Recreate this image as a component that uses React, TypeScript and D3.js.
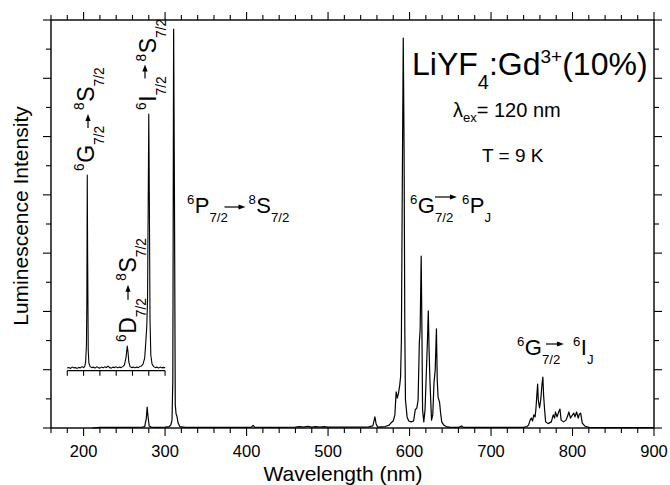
import React from "react";
import * as d3 from "d3";

// ---------- data (wavelength nm, intensity in axis units 0..14) ----------
const mainSpectrum: [number, number][] = [
  [211, 0.0], [220, 0.02], [240, 0.02], [260, 0.02], [272, 0.03], [275, 0.05],
  [277, 0.34], [278, 0.72], [279, 0.41], [280.5, 0.07], [283, 0.03], [290, 0.02],
  [300, 0.03], [305, 0.05], [307, 0.1], [308.5, 0.27], [309.5, 1.65], [310.5, 13.69],
  [311.5, 7.82], [312.5, 0.79], [313.5, 0.48], [314.5, 0.41], [316, 0.17], [318, 0.05],
  [325, 0.02], [350, 0.02], [380, 0.02], [400, 0.02], [406, 0.03], [408, 0.09],
  [410, 0.03], [430, 0.02], [460, 0.03], [465, 0.05], [470, 0.03], [475, 0.06],
  [480, 0.03], [485, 0.05], [490, 0.03], [495, 0.05], [500, 0.03], [520, 0.03],
  [540, 0.03], [550, 0.04], [555, 0.07], [557.5, 0.38], [559, 0.14], [561, 0.03],
  [570, 0.05], [575, 0.1], [577, 0.17], [580, 0.24], [582, 0.45], [583.6, 1.24],
  [585, 1.03], [586.5, 1.2], [588, 1.48], [589, 1.75], [590, 3.02], [591, 7.82],
  [592.3, 13.38], [593.3, 9.54], [594.2, 3.36], [595, 0.96], [597, 0.38], [599, 0.24],
  [602, 0.21], [605, 0.24], [607, 0.62], [609, 0.69], [610.5, 0.96], [612, 2.92],
  [613, 3.36], [614.3, 5.9], [615.3, 3.02], [616, 0.62], [617.5, 0.21], [619, 0.62],
  [620.6, 1.89], [622, 3.02], [623, 4.02], [624, 2.68], [625, 1.65], [627, 0.27],
  [628.5, 0.45], [630, 1.54], [631.5, 1.99], [633, 3.4], [634, 1.65], [635, 1.06],
  [636.8, 0.89], [638, 0.55], [639.5, 0.21], [642, 0.1], [645, 0.05], [650, 0.02],
  [660, 0.02], [664, 0.07], [666, 0.02], [680, 0.02], [700, 0.02], [720, 0.02],
  [740, 0.02], [744, 0.05], [746, 0.1], [748, 0.27], [749.5, 0.34], [751, 0.24],
  [752.5, 0.45], [754, 0.38], [755, 0.62], [756, 1.03], [757.2, 1.51], [758, 0.96],
  [759.5, 0.69], [761, 0.96], [762.5, 1.48], [763.6, 1.75], [764.5, 1.13], [765.5, 0.72],
  [767, 0.21], [770, 0.15], [774, 0.21], [776.3, 0.45], [778, 0.34], [779, 0.55],
  [781, 0.38], [783, 0.55], [784.6, 0.65], [786, 0.27], [789, 0.21], [792, 0.27],
  [794, 0.41], [795.5, 0.55], [797.5, 0.34], [799, 0.41], [801.6, 0.51], [803, 0.38],
  [805, 0.55], [807, 0.34], [808.5, 0.48], [810, 0.51], [812, 0.17], [815, 0.07],
  [820, 0.02], [850, 0.01], [900, 0.01],
];

// inset: magnified UV region, intensity relative to the 280 nm peak
const insetSpectrum: [number, number][] = [
  [180, 0.011], [182, 0.012], [184, 0.009], [186, 0.014], [188, 0.011], [190, 0.012],
  [192, 0.009], [194, 0.013], [196, 0.011], [198, 0.016], [200, 0.012], [201.5, 0.018],
  [202.5, 0.034], [203.5, 0.1], [204, 0.275], [204.5, 0.762], [205, 0.43], [205.7, 0.08],
  [206.5, 0.03], [208, 0.016], [210, 0.012], [212, 0.014], [214, 0.01], [216, 0.015],
  [218, 0.012], [220, 0.01], [222, 0.014], [224, 0.011], [226, 0.015], [228, 0.012],
  [230, 0.018], [232, 0.012], [234, 0.01], [236, 0.014], [238, 0.012], [240, 0.015],
  [242, 0.011], [244, 0.014], [246, 0.012], [248, 0.016], [250, 0.022], [252, 0.05],
  [253.6, 0.096], [254.5, 0.073], [255.5, 0.034], [257, 0.016], [259, 0.012], [261, 0.014],
  [263, 0.011], [265, 0.014], [267, 0.012], [269, 0.016], [271, 0.018], [273, 0.026],
  [275, 0.05], [276.5, 0.12], [277.5, 0.17], [278.5, 0.275], [279.3, 0.665], [280, 1.0],
  [280.7, 0.665], [281.5, 0.2], [282.5, 0.06], [284, 0.026], [286, 0.016], [288, 0.012],
  [290, 0.014], [292, 0.01], [294, 0.014], [296, 0.011], [298, 0.013], [300, 0.011],
];

const xMajorTicks = [200, 300, 400, 500, 600, 700, 800, 900];
const xMinorStep = 20;
const yTickValues = d3.range(0, 15);
const insetTicks = [180, 200, 220, 240, 260, 280, 300];

// ---------- layout ----------
const W = 670;
const H = 485;
const FONT = "'Liberation Sans', Arial, Helvetica, sans-serif";

const x = d3.scaleLinear().domain([160, 900]).range([51, 654]);
const y = d3.scaleLinear().domain([0, 14]).range([428, 20]);
const yInset = d3.scaleLinear().domain([0, 1]).range([370.7, 114]);
const insetBase = 370.7;

const charW: Record<string, number> = {
  "0": 0.556, "1": 0.556, "2": 0.556, "3": 0.556, "4": 0.556, "5": 0.556,
  "6": 0.556, "7": 0.556, "8": 0.556, "9": 0.556, "/": 0.278,
  G: 0.778, P: 0.667, S: 0.667, D: 0.722, I: 0.278, J: 0.5,
};
const tw = (s: string, size: number) =>
  s.split("").reduce((a, c) => a + (charW[c] ?? 0.556), 0) * size;

type TermProps = {
  tx: number; ty: number; rotate?: boolean; fs: number;
  a: [string, string, string]; b: [string, string, string];
  arrowStart: number; arrowLen: number; arrowRise: number; gap: number;
};

function Term({ tx, ty, rotate, fs, a, b, arrowStart, arrowLen, arrowRise, gap }: TermProps) {
  const supFs = fs * 0.6;
  const subFs = fs * 0.6;
  const supDy = -fs * 0.42;
  const subDy = fs * 0.42;
  const x1 = tw(a[0], supFs) + 0.5;
  const x2 = x1 + tw(a[1], fs);
  const subEnd = x2 + tw(a[2], subFs);
  const ax0 = x2 + arrowStart;
  const ax1 = ax0 + arrowLen;
  const x3 = Math.max(subEnd, ax1) + gap;
  const x4 = x3 + tw(b[0], supFs) + 0.5;
  const x5 = x4 + tw(b[1], fs);
  const ay = -arrowRise;
  const head = 7;
  return (
    <g transform={`translate(${tx},${ty})${rotate ? " rotate(-90)" : ""}`} fontFamily={FONT} fill="#000">
      <text x={0} y={supDy} fontSize={supFs}>{a[0]}</text>
      <text x={x1} y={0} fontSize={fs}>{a[1]}</text>
      <text x={x2} y={subDy} fontSize={subFs}>{a[2]}</text>
      <line x1={ax0} y1={ay} x2={ax1 - head + 1} y2={ay} stroke="#000" strokeWidth={1.2} />
      <path d={`M${ax1},${ay} L${ax1 - head},${ay - 2.6} L${ax1 - head},${ay + 2.6} Z`} fill="#000" />
      <text x={x3} y={supDy} fontSize={supFs}>{b[0]}</text>
      <text x={x4} y={0} fontSize={fs}>{b[1]}</text>
      <text x={x5} y={subDy} fontSize={subFs}>{b[2]}</text>
    </g>
  );
}

export default function App() {
  const line = d3
    .line<[number, number]>()
    .x((d) => x(d[0]))
    .y((d) => y(d[1]));
  const insetLine = d3
    .line<[number, number]>()
    .x((d) => x(d[0]))
    .y((d) => yInset(d[1]));

  const xAll = d3.range(160, 901, xMinorStep);
  const isMajor = (v: number) => xMajorTicks.includes(v);
  const [x0, x1] = x.range();
  const [yb, yt] = y.range();

  return (
    <svg
      width={W}
      height={H}
      viewBox={`0 0 ${W} ${H}`}
      style={{ position: "absolute", left: 0, top: 0, background: "#fff" }}
    >
      <rect x={0} y={0} width={W} height={H} fill="#fff" />
      {/* spectrum */}
      <path d={line(mainSpectrum) || ""} fill="none" stroke="#000" strokeWidth={1.2} strokeLinejoin="round" />
      {/* inset */}
      <path d={insetLine(insetSpectrum) || ""} fill="none" stroke="#000" strokeWidth={1.1} strokeLinejoin="round" />
      <line x1={x(180)} x2={x(300)} y1={insetBase} y2={insetBase} stroke="#000" strokeWidth={1.3} />
      {insetTicks.map((t) => (
        <line key={"it" + t} x1={x(t)} x2={x(t)} y1={insetBase} y2={insetBase + 5} stroke="#000" strokeWidth={1.1} />
      ))}

      {/* frame */}
      <rect x={x0} y={yt} width={x1 - x0} height={yb - yt} fill="none" stroke="#000" strokeWidth={1.4} />
      {xAll.map((t) => {
        const len = isMajor(t) ? 8 : 5;
        return (
          <g key={"xt" + t}>
            <line x1={x(t)} x2={x(t)} y1={yb} y2={yb + len} stroke="#000" strokeWidth={1.1} />
            <line x1={x(t)} x2={x(t)} y1={yt} y2={yt - len} stroke="#000" strokeWidth={1.1} />
          </g>
        );
      })}
      {yTickValues.map((t) => {
        const len = t % 2 === 0 ? 8 : 5;
        return (
          <g key={"yt" + t}>
            <line x1={x0} x2={x0 - len} y1={y(t)} y2={y(t)} stroke="#000" strokeWidth={1.1} />
            <line x1={x1} x2={x1 + len} y1={y(t)} y2={y(t)} stroke="#000" strokeWidth={1.1} />
          </g>
        );
      })}
      {xMajorTicks.map((t) => (
        <text key={"xl" + t} x={x(t)} y={457} fontSize={16.5} fontFamily={FONT} textAnchor="middle">
          {t}
        </text>
      ))}
      <text x={343} y={481} fontSize={21} fontFamily={FONT} textAnchor="middle">
        Wavelength (nm)
      </text>
      <text transform="translate(28,216) rotate(-90)" fontSize={21} fontFamily={FONT} textAnchor="middle">
        Luminescence Intensity
      </text>

      {/* title block */}
      <text x={412} y={75} fontSize={32} fontFamily={FONT}>
        LiYF<tspan fontSize={20} dy={14}>4</tspan>
        <tspan dy={-14}>:Gd</tspan>
        <tspan fontSize={19} dy={-12}>3+</tspan>
        <tspan dy={12}>(10%)</tspan>
      </text>
      <text x={453} y={117} fontSize={20} fontFamily={FONT}>
        λ<tspan fontSize={13} dy={5}>ex</tspan>
        <tspan dy={-5}>= 120 nm</tspan>
      </text>
      <text x={482} y={162} fontSize={19} fontFamily={FONT}>
        T = 9 K
      </text>

      {/* transition labels */}
      <Term tx={187} ty={213} fs={22} a={["6", "P", "7/2"]} b={["8", "S", "7/2"]} arrowStart={15} arrowLen={21} arrowRise={6} gap={3} />
      <Term tx={410} ty={213} fs={22} a={["6", "G", "7/2"]} b={["6", "P", "J"]} arrowStart={0} arrowLen={22} arrowRise={16} gap={5} />
      <Term tx={517} ty={355} fs={22} a={["6", "G", "7/2"]} b={["6", "I", "J"]} arrowStart={4} arrowLen={18} arrowRise={11} gap={9} />
      <Term tx={94} ty={171} rotate fs={23} a={["6", "G", "7/2"]} b={["8", "S", "7/2"]} arrowStart={17} arrowLen={14} arrowRise={6} gap={4} />
      <Term tx={156} ty={110} rotate fs={23} a={["6", "I", "7/2"]} b={["8", "S", "7/2"]} arrowStart={17} arrowLen={14} arrowRise={11} gap={3} />
      <Term tx={136} ty={342} rotate fs={23} a={["6", "D", "7/2"]} b={["8", "S", "7/2"]} arrowStart={17.5} arrowLen={15} arrowRise={8} gap={4} />
    </svg>
  );
}
